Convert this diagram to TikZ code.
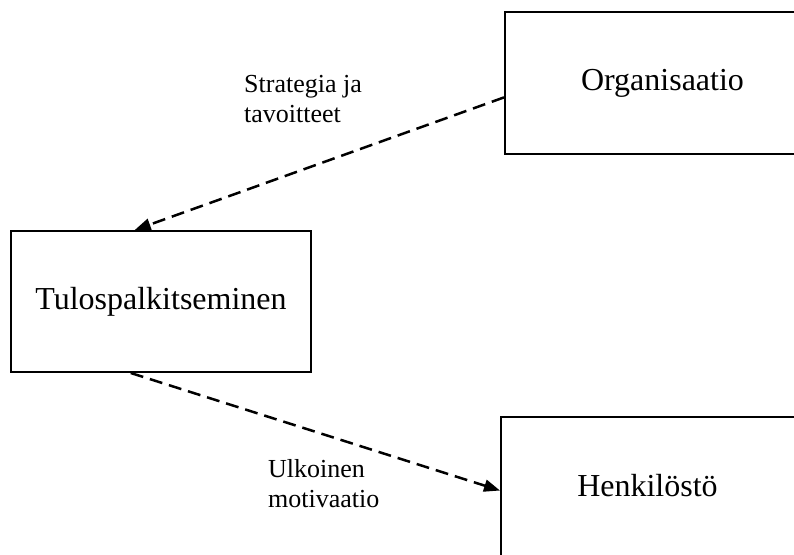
\documentclass[tikz,border=0pt]{standalone}
\usepackage{fontspec}
\setmainfont{Liberation Serif}
\usetikzlibrary{arrows.meta,calc}
\begin{document}
\begin{tikzpicture}[x=1pt,y=-1pt,
  boxnode/.style={draw,line width=2pt,rectangle,inner sep=0pt,font=\fontsize{32}{38}\selectfont},
  boxtext/.style={inner sep=0pt,font=\fontsize{32}{38}\selectfont},
  conn/.style={line width=2.5pt,dash pattern=on 13pt off 7pt,-{Triangle[length=16pt,width=12pt]}},
  lbl/.style={inner sep=0pt,align=left,font=\fontsize{26}{30}\selectfont}]
\useasboundingbox (0,0) rectangle (794,554);
\clip (0,0) rectangle (794,554);
\node[boxnode,minimum width=315pt,minimum height=142pt] (org) at (662.5,83) {Organisaatio};
\node[boxnode,minimum width=300pt,minimum height=141pt] (tul) at (161,301.5) {Tulospalkitseminen};
\node[boxnode,minimum width=330pt,minimum height=160pt] (hen) at (666,497) {};
\node[boxtext] (hent) at (647.5,486) {Henkilöstö};
\draw[conn] ($(org.north west)!0.6!(org.south west)$) -- ($(tul.north west)!0.413!(tul.north east)$);
\draw[conn] ($(tul.south west)!0.4!(tul.south east)$) -- ($(hen.north west)!0.46!(hen.south west)$);
\node[lbl,anchor=base west] (l1) at (244,122) {Strategia ja\\tavoitteet};
\node[lbl,anchor=base west] (l2) at (268,507) {Ulkoinen\\motivaatio};
\end{tikzpicture}
\end{document}
